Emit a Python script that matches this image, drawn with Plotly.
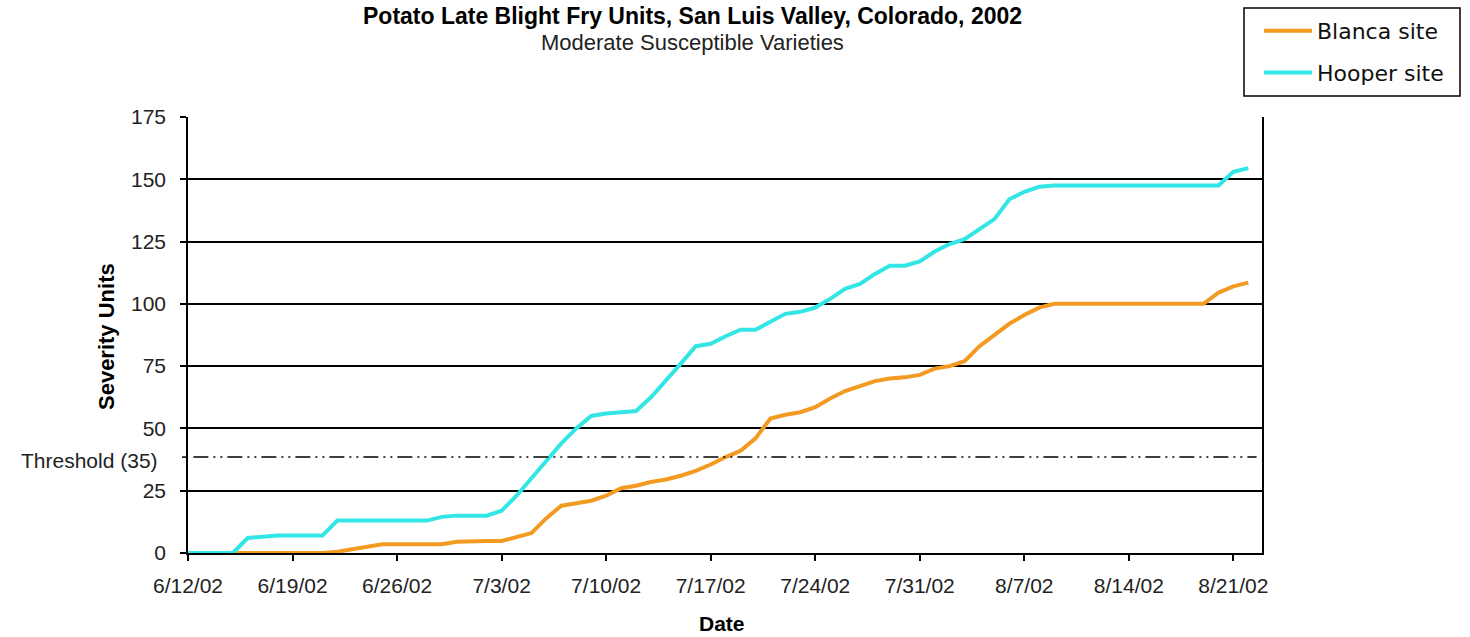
import pandas as pd
import plotly.graph_objects as go

# ---- data ----
start_date = "2002-06-12"
n_days = 72  # 6/12/02 .. 8/22/02

series_names = ["Blanca site", "Hooper site"]
series_colors = ["#F29A22", "#33E6E6"]

blanca = [0, 0, 0, 0, 0, 0, 0, 0, 0, 0,
          0.5, 1.5, 2.5, 3.5, 3.5, 3.5, 3.5, 3.5, 4.5, 4.8,
          4.8, 4.8, 6.5, 8, 14, 19, 20, 21, 23, 26,
          27, 28.5, 29.5, 31, 33, 35.5, 38.5, 41, 46, 54,
          55.5, 56.5, 58.5, 62, 65, 67, 69, 70, 70.5, 71.5,
          74, 75, 77, 83, 87.5, 92, 95.5, 98.5, 100, 100,
          100, 100, 100, 100, 100, 100, 100, 100, 100, 104.5,
          107, 108.5]

hooper = [0, 0, 0, 0, 6, 6.5, 7, 7, 7, 7,
          13, 13, 13, 13, 13, 13, 13, 14.5, 15, 15,
          15, 17, 23, 30, 37, 44, 50, 55, 56, 56.5,
          57, 62.5, 69, 76, 83, 84, 87, 89.6, 89.6, 93,
          96, 96.8, 98.5, 102, 106, 108, 112, 115.3, 115.3, 117,
          121, 124, 126, 130, 134, 142, 145, 147, 147.5, 147.5,
          147.5, 147.5, 147.5, 147.5, 147.5, 147.5, 147.5, 147.5, 147.5, 147.5,
          153, 154.5]

threshold_value = 38.5
threshold_label = "Threshold (35)"

tick_dates = ["2002-06-12", "2002-06-19", "2002-06-26", "2002-07-03", "2002-07-10",
              "2002-07-17", "2002-07-24", "2002-07-31", "2002-08-07", "2002-08-14",
              "2002-08-21"]
tick_labels = ["6/12/02", "6/19/02", "6/26/02", "7/3/02", "7/10/02", "7/17/02",
               "7/24/02", "7/31/02", "8/7/02", "8/14/02", "8/21/02"]
y_ticks = [0, 25, 50, 75, 100, 125, 150, 175]

dates = pd.date_range(start_date, periods=n_days, freq="D")

FONT = "Liberation Sans, Arial, sans-serif"

fig = go.Figure()
for i, (name, vals) in enumerate(zip(series_names, [blanca, hooper])):
    fig.add_trace(go.Scatter(x=dates, y=vals, mode="lines", name=name,
                             line=dict(color=series_colors[i], width=4),
                             legendgroup=f"g{i}"))

# threshold line
fig.add_shape(type="line", xref="paper", yref="y", x0=0.005, x1=0.995,
              y0=threshold_value, y1=threshold_value,
              line=dict(color="black", width=1.5, dash="15px,5px,2px,5px,2px,5px"))
fig.add_shape(type="line", xref="paper", yref="y", x0=-0.0056, x1=0,
              y0=threshold_value, y1=threshold_value,
              line=dict(color="black", width=1.5))
fig.add_annotation(text=threshold_label, xref="paper", yref="y", x=-0.0261,
                   y=threshold_value, xanchor="right", yanchor="middle",
                   showarrow=False, yshift=-3,
                   font=dict(family=FONT, size=21, color="#222"))

# legend frame
fig.add_shape(type="rect", xref="paper", yref="paper",
              x0=0.98324, x1=1.18436, y0=1.04817, y1=1.2500,
              line=dict(color="black", width=1.5), fillcolor="rgba(0,0,0,0)")

# titles
fig.add_annotation(text="<b>Potato Late Blight Fry Units, San Luis Valley, Colorado, 2002</b>",
                   xref="paper", yref="paper", x=0.4702, y=1.2317, xanchor="center",
                   yanchor="middle", showarrow=False,
                   font=dict(family=FONT, size=23, color="black"))
fig.add_annotation(text="Moderate Susceptible Varieties",
                   xref="paper", yref="paper", x=0.4702, y=1.170, xanchor="center",
                   yanchor="middle", showarrow=False,
                   font=dict(family=FONT, size=22, color="#222"))
# axis titles
fig.add_annotation(text="<b>Severity Units</b>", xref="paper", yref="paper",
                   x=-0.07635, y=0.4954, textangle=-90, xanchor="center",
                   yanchor="middle", showarrow=False,
                   font=dict(family=FONT, size=22, color="black"))
fig.add_annotation(text="<b>Date</b>", xref="paper", yref="paper",
                   x=0.4972, y=-0.1628, xanchor="center", yanchor="middle",
                   showarrow=False, font=dict(family=FONT, size=21, color="black"))

fig.update_layout(
    width=1470, height=637,
    margin=dict(l=188, r=208, t=117, b=84, autoexpand=False),
    paper_bgcolor="white", plot_bgcolor="white",
    font=dict(family=FONT, size=21, color="#222"),
    showlegend=True,
    legend=dict(xref="paper", yref="paper", x=0.9972, y=1.2454,
                xanchor="left", yanchor="top",
                borderwidth=0, bgcolor="rgba(0,0,0,0)",
                font=dict(family="DejaVu Sans, sans-serif", size=22, color="#111"),
                traceorder="grouped", tracegroupgap=10, itemwidth=48),
    xaxis=dict(
        type="date", range=["2002-06-12", "2002-08-22 22:00"],
        tickvals=tick_dates, ticktext=tick_labels,
        showgrid=False, zeroline=False,
        showline=True, linecolor="black", linewidth=1.5,
        ticks="outside", ticklen=6, tickcolor="black", tickwidth=1.5,
        ticklabelstandoff=7,
        tickfont=dict(family=FONT, size=21, color="#222"),
    ),
    yaxis=dict(
        range=[0, 175], tickvals=y_ticks,
        showgrid=True, gridcolor="black", gridwidth=1.5,
        zeroline=False,
        showline=True, linecolor="black", linewidth=1.5, mirror=True,
        ticks="outside", ticklen=6, tickcolor="black", tickwidth=1.5,
        ticklabelstandoff=10,
        tickfont=dict(family=FONT, size=21, color="#222"),
    ),
)

fig.write_html("out.html",
               config={"displayModeBar": False},
               post_script="document.body.style.margin='0';document.body.style.overflow='hidden';")
